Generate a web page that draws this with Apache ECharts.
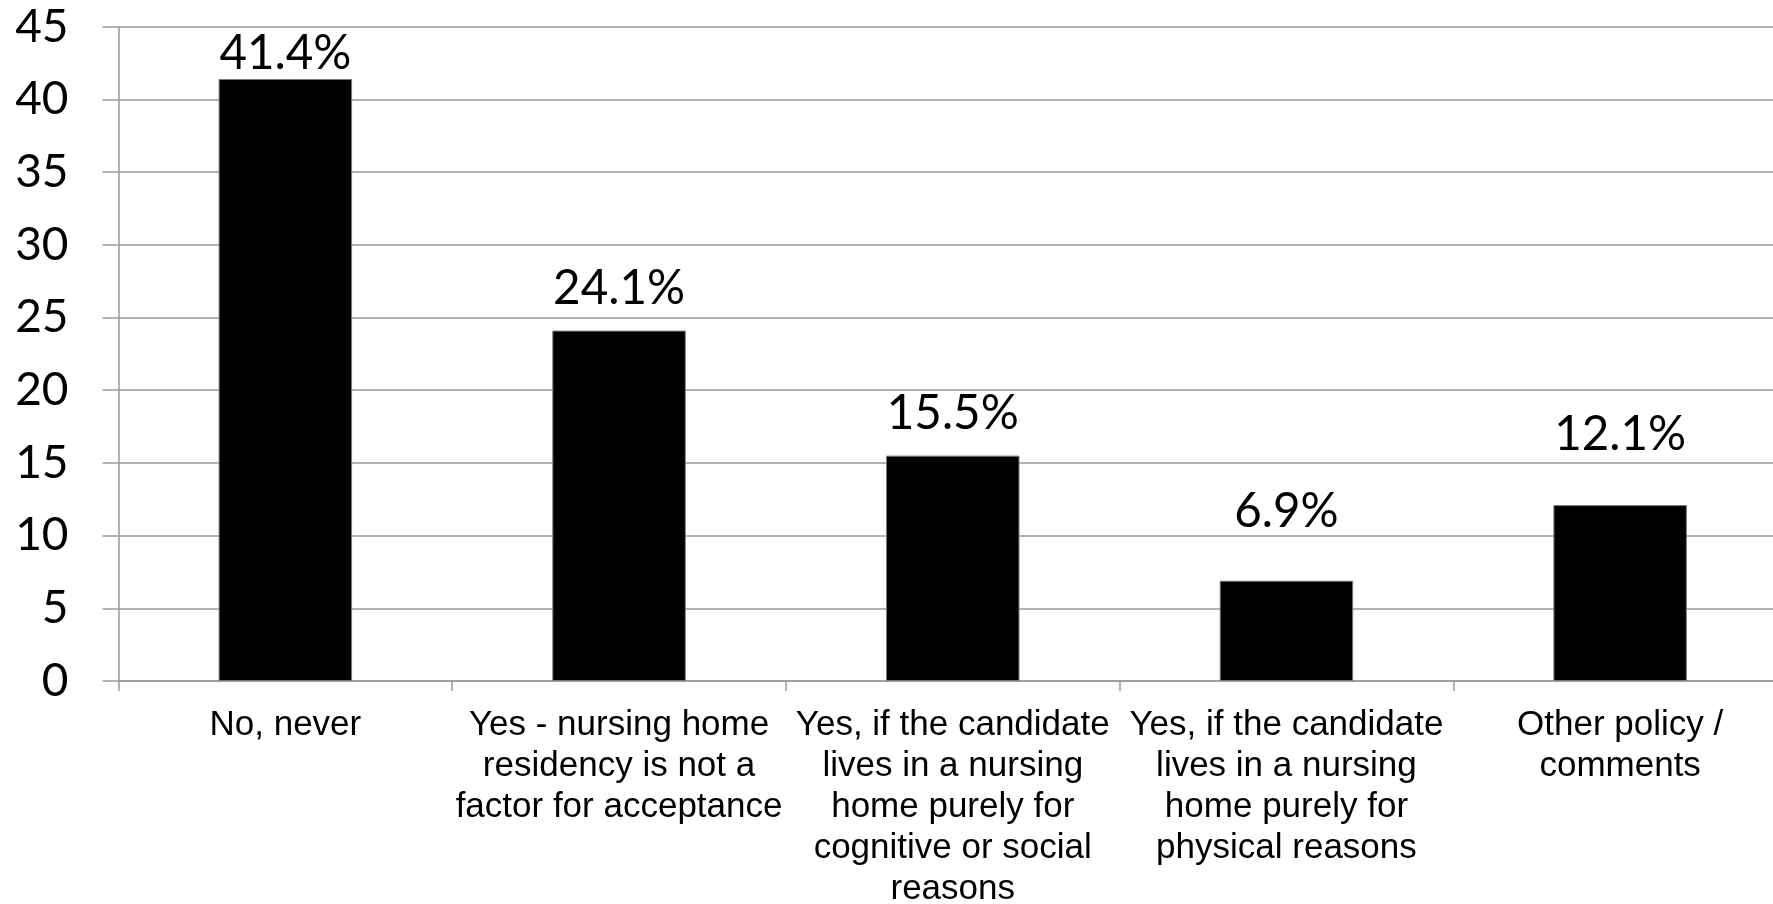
<!DOCTYPE html>
<html>
<head>
<meta charset="utf-8">
<script src="https://cdn.jsdelivr.net/npm/echarts@6/dist/echarts.min.js"></script>
<style>
html,body{margin:0;padding:0;background:#fff;overflow:hidden;}
#chart{width:1790px;height:904px;}
</style>
</head>
<body>
<div id="chart"></div>
<script>
const categories = [
  'No, never',
  'Yes - nursing home\nresidency is not a\nfactor for acceptance',
  'Yes, if the candidate\nlives in a nursing\nhome purely for\ncognitive or social\nreasons',
  'Yes, if the candidate\nlives in a nursing\nhome purely for\nphysical reasons',
  'Other policy /\ncomments'
];
const values = [41.4, 24.1, 15.5, 6.9, 12.1];
const yMin = 0, yMax = 45, yStep = 5;

// layout: gap (px) between each value label and its bar top
const labelDistances = [1, 18, 18, 45, 46];

const chart = echarts.init(document.getElementById('chart'), null, {renderer: 'canvas'});
chart.setOption({
  animation: false,
  backgroundColor: '#ffffff',
  grid: {left: 118.5, top: 26.7, right: 3, height: 654.3, containLabel: false, outerBoundsMode: 'none'},
  xAxis: {
    type: 'category',
    data: categories,
    axisLine: {show: true, lineStyle: {color: '#9a9a9a', width: 1.5}},
    axisTick: {show: true, alignWithLabel: false, length: 10, lineStyle: {color: '#9a9a9a', width: 1.5}},
    axisLabel: {
      interval: 0, margin: 24, color: '#000',
      fontFamily: 'Liberation Sans, Arial, sans-serif', fontSize: 35, lineHeight: 41, align: 'center'
    },
    splitLine: {show: false}
  },
  yAxis: {
    type: 'value', min: yMin, max: yMax, interval: yStep,
    axisLine: {show: true, lineStyle: {color: '#9a9a9a', width: 1.5}},
    axisTick: {show: true, length: 16, lineStyle: {color: '#9a9a9a', width: 1.5}},
    axisLabel: {margin: 50, color: '#000', fontFamily: 'Lato, sans-serif', fontSize: 46},
    splitLine: {show: true, lineStyle: {color: '#9a9a9a', width: 1.5}}
  },
  series: [{
    type: 'bar',
    data: values.map((v, i) => ({value: v, label: {distance: labelDistances[i]}})),
    barWidth: '40%',
    itemStyle: {color: '#000', borderColor: '#7a7a7a', borderWidth: 1},
    label: {
      show: true, position: 'top', color: '#000',
      fontFamily: 'Lato, sans-serif', fontSize: 47.5,
      formatter: p => p.value.toFixed(1) + '%'
    }
  }]
});
</script>
</body>
</html>
